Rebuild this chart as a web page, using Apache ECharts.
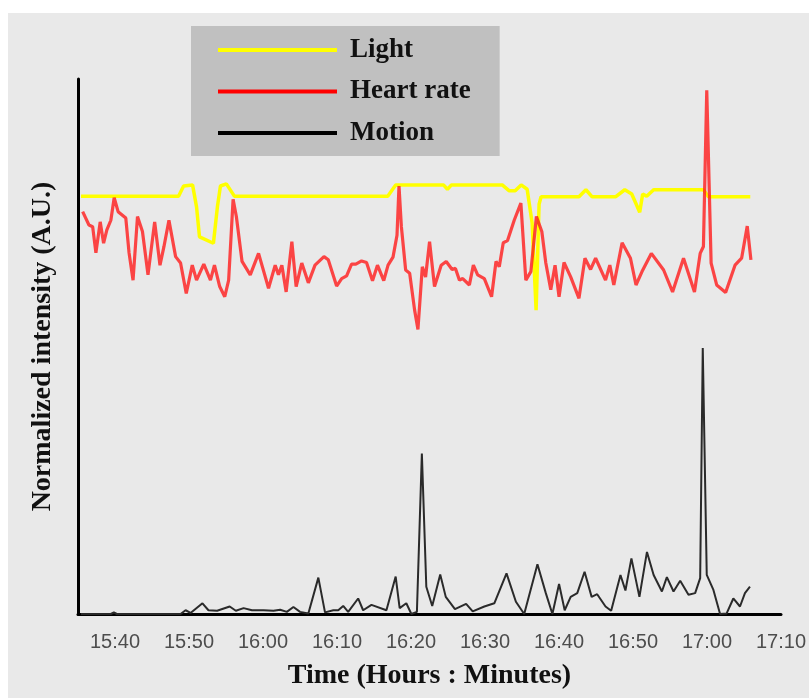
<!DOCTYPE html>
<html>
<head>
<meta charset="utf-8">
<script src="https://cdn.jsdelivr.net/npm/echarts@6/dist/echarts.min.js"></script>
<style>html,body{margin:0;padding:0;background:#fff}#c{width:809px;height:698px}</style>
</head>
<body>
<div id="c"></div>
<script>
// time in minutes since midnight, values in normalized units (0-100)
const tickLabels = ['15:40','15:50','16:00','16:10','16:20','16:30','16:40','16:50','17:00','17:10'];
const tickMinutes = [940,950,960,970,980,990,1000,1010,1020,1030];

const lightTime = [935.40,948.59,949.27,950.48,951.02,951.42,953.30,953.84,954.25,955.05,956.13,976.86,977.93,984.39,984.93,985.47,992.33,993.28,994.08,994.89,995.70,996.37,996.91,997.31,997.58,1002.70,1003.64,1004.45,1007.68,1008.89,1009.83,1010.50,1010.91,1011.31,1011.85,1012.79,1019.52,1020.19,1025.85];
const lightValue = [78.1,78.1,80.0,80.2,76.1,70.5,69.3,76.1,80.0,80.4,78.1,78.1,80.2,80.2,79.4,80.2,80.2,79.1,79.1,80.2,79.4,73.1,56.8,76.6,78.0,78.0,79.3,78.0,78.0,79.3,78.5,76.4,75.1,78.5,78.1,79.3,79.3,78.0,78.0];

const heartTime = [935.63,936.48,936.98,937.42,938.00,938.46,938.90,939.44,939.89,940.42,941.46,941.90,942.44,943.04,943.71,944.46,945.36,946.08,946.62,947.29,948.19,948.86,949.63,950.44,951.02,952.00,952.90,953.44,954.15,954.83,955.36,955.96,956.40,957.17,958.28,959.40,960.75,961.65,962.09,962.55,963.13,963.90,964.48,965.24,966.13,967.03,968.24,968.82,969.95,970.63,971.30,971.97,972.55,973.32,973.99,974.80,975.47,976.32,976.90,977.57,978.11,978.38,978.70,979.28,979.82,980.49,980.94,981.53,981.97,982.51,983.18,984.08,984.76,985.56,986.01,986.55,986.99,987.89,988.43,989.01,989.91,990.89,991.49,991.93,992.47,993.05,993.95,994.85,995.52,996.20,996.95,997.68,998.22,998.89,999.47,1000.01,1000.68,1001.58,1002.70,1003.51,1004.27,1004.95,1006.29,1006.87,1007.41,1008.53,1009.66,1010.41,1011.22,1012.48,1014.14,1015.35,1016.83,1018.31,1019.08,1019.52,1019.97,1020.56,1021.31,1022.52,1023.79,1024.68,1025.44,1025.94];
const heartValue = [75.2,72.7,72.4,67.5,73.3,69.3,71.8,73.6,77.8,75.2,74.0,67.5,62.4,74.3,71.5,63.4,73.3,65.2,68.7,73.6,66.8,65.6,59.9,65.2,62.4,65.4,62.4,65.2,61.2,59.3,62.4,77.5,74.3,65.9,63.4,67.4,60.9,65.2,63.4,65.2,60.2,69.6,61.2,65.6,61.9,65.2,66.8,66.2,61.3,62.7,63.2,65.4,65.4,66.0,65.7,62.3,65.2,62.3,65.2,66.7,70.8,80.0,72.4,64.3,63.7,56.8,53.2,64.9,63.0,69.6,61.2,65.2,65.9,64.4,64.6,62.4,62.7,61.5,65.2,63.4,62.7,59.3,65.9,64.9,69.4,69.8,73.6,76.8,62.4,64.0,74.3,71.5,65.6,60.6,65.2,59.3,65.7,63.0,59.0,66.5,64.4,66.5,62.4,65.2,61.5,69.4,66.5,61.5,64.0,67.4,64.3,60.2,66.5,60.2,67.4,68.7,97.9,65.6,61.5,60.1,65.2,66.5,72.5,66.2];

const motionTime = [935.40,939.44,939.85,940.25,948.86,949.54,950.21,951.82,952.63,953.80,955.50,956.33,957.38,958.51,960.07,961.42,962.32,963.22,964.11,965.01,966.13,967.48,968.38,969.50,970.17,970.84,971.51,972.86,973.53,974.66,976.68,977.93,978.47,979.37,980.05,980.80,981.47,982.07,982.87,983.95,984.70,985.94,987.45,988.34,989.91,991.26,992.91,994.18,995.30,997.09,998.22,999.11,1000.01,1000.77,1001.58,1002.47,1003.46,1004.41,1005.16,1006.29,1007.05,1008.31,1008.98,1009.79,1010.87,1011.89,1012.79,1013.91,1014.58,1015.48,1016.38,1017.50,1018.40,1019.08,1019.43,1019.97,1020.87,1021.77,1022.66,1023.56,1024.46,1025.13,1025.81];
const motionValue = [0.0,0.0,0.3,0.0,0.0,0.7,0.2,2.0,0.7,0.6,1.4,0.6,1.1,0.7,0.7,0.6,0.8,0.4,1.3,0.4,0.1,6.8,0.3,0.7,0.7,1.5,0.4,2.9,0.7,1.7,0.7,7.0,1.1,2.0,0.0,0.4,30.0,5.1,1.5,7.4,3.2,0.9,1.9,0.5,1.4,2.0,7.6,2.3,0.0,9.3,3.9,0.0,5.6,0.7,3.2,3.9,7.9,3.2,3.7,1.4,0.6,7.3,4.4,10.4,3.2,11.6,7.3,4.2,6.9,4.2,6.2,3.6,3.9,6.7,49.7,7.3,4.5,0.0,0.1,2.9,1.4,3.9,5.1];

const seriesNames = ['Light','Heart rate','Motion'];

function pairs(t, v){ return t.map((x,i)=>[x, v[i]]); }

const chart = echarts.init(document.getElementById('c'), null, {renderer:'canvas'});
const serif = '"Liberation Serif","Times New Roman",serif';
chart.setOption({
  backgroundColor:'#ffffff',
  animation:false,
  graphic:[{type:'rect', left:8, top:13, shape:{width:801, height:685}, style:{fill:'#e9e9e9'}, z:-10, silent:true}],
  grid:{left:78, right:26, top:79, bottom:84},
  legend:{
    data:seriesNames,
    orient:'vertical', left:191, top:26,
    backgroundColor:'#c0c0c0',
    padding:[9,29,8,27],
    itemGap:11.5, itemWidth:119, itemHeight:4, icon:'rect',
    textStyle:{fontFamily:serif, fontWeight:'bold', fontSize:27, color:'#111', lineHeight:30, padding:[0,0,0,8]}
  },
  xAxis:{
    type:'value', min:935, max:1030,
    name:'Time (Hours : Minutes)', nameLocation:'middle', nameGap:48,
    nameTextStyle:{fontFamily:serif, fontWeight:'bold', fontSize:28, color:'#111'},
    axisLine:{show:true, onZero:false, lineStyle:{color:'#000', width:3}},
    axisTick:{show:false},
    splitLine:{show:false},
    axisLabel:{
      customValues:tickMinutes,
      margin:18, fontFamily:'"Liberation Sans",Arial,sans-serif', fontSize:20, color:'#4d4d4d',
      formatter:function(v){ const i = tickMinutes.indexOf(Math.round(v)); return i>=0 ? tickLabels[i] : ''; }
    }
  },
  yAxis:{
    type:'value', min:0, max:100,
    name:'Normalized intensity (A.U.)', nameLocation:'middle', nameGap:21,
    nameTextStyle:{fontFamily:serif, fontWeight:'bold', fontSize:28, color:'#111'},
    axisLine:{show:true, lineStyle:{color:'#000', width:3}},
    axisTick:{show:false}, axisLabel:{show:false}, splitLine:{show:false}
  },
  series:[
    {name:'Light', type:'line', data:pairs(lightTime, lightValue), showSymbol:false, symbol:'none', color:'#ffff00', lineStyle:{color:'#ffff00', width:3.5}, z:2},
    {name:'Heart rate', type:'line', data:pairs(heartTime, heartValue), showSymbol:false, symbol:'none', color:'#ff0000', lineStyle:{color:'#ff1a1a', width:3.2, opacity:0.8}, z:3},
    {name:'Motion', type:'line', data:pairs(motionTime, motionValue), showSymbol:false, symbol:'none', color:'#000000', lineStyle:{color:'#2a2a2a', width:2}, z:4}
  ]
});
</script>
</body>
</html>
